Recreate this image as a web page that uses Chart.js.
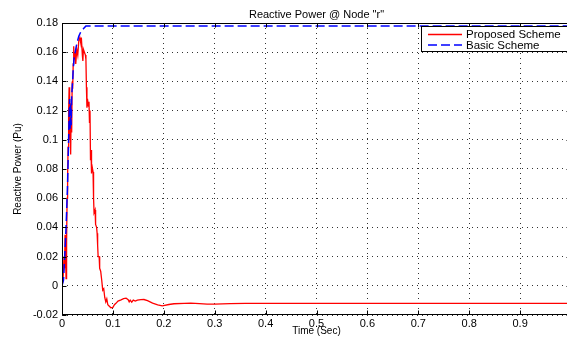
<!DOCTYPE html>
<html>
<head>
<meta charset="utf-8">
<script src="https://cdn.jsdelivr.net/npm/chart.js@4/dist/chart.umd.min.js"></script>
<style>
  html, body { margin: 0; padding: 0; background: #fff; overflow: hidden; }
  #wrap { width: 573px; height: 338px; }
</style>
</head>
<body>
<div id="wrap"><canvas id="c" width="573" height="338"></canvas></div>
<script>
// ---- data (time in seconds, reactive power in pu) ----
const titleText = 'Reactive Power @ Node "r"';
const xTitle = 'Time (Sec)';
const yTitle = 'Reactive Power (Pu)';
const seriesNames = ['Proposed Scheme', 'Basic Scheme'];

const proposedTime = [0, 0.002, 0.004, 0.005, 0.006, 0.007, 0.008, 0.009, 0.010, 0.011, 0.012, 0.013, 0.014, 0.015, 0.016, 0.017, 0.018, 0.019, 0.020, 0.021, 0.022, 0.023, 0.024, 0.026, 0.027, 0.029, 0.031, 0.033, 0.035, 0.037, 0.038, 0.040, 0.041, 0.042, 0.044, 0.046, 0.047, 0.048, 0.049, 0.050, 0.052, 0.053, 0.054, 0.055, 0.056, 0.057, 0.058, 0.059, 0.061, 0.062, 0.063, 0.065, 0.066, 0.068, 0.069, 0.070, 0.071, 0.073, 0.074, 0.076, 0.078, 0.080, 0.082, 0.084, 0.086, 0.088, 0.090, 0.093, 0.096, 0.100, 0.103, 0.106, 0.110, 0.116, 0.121, 0.126, 0.130, 0.132, 0.134, 0.137, 0.140, 0.144, 0.148, 0.155, 0.161, 0.168, 0.178, 0.188, 0.197, 0.21, 0.22, 0.24, 0.253, 0.27, 0.285, 0.30, 0.33, 0.36, 0.4, 0.5, 0.6, 0.7, 0.8, 0.9, 1.0];
const proposedQ = [0, 0.004, 0.02, 0.012, 0.035, 0.022, 0.005, 0.03, 0.06, 0.075, 0.095, 0.118, 0.136, 0.10, 0.125, 0.09, 0.12, 0.105, 0.14, 0.135, 0.152, 0.164, 0.155, 0.16, 0.152, 0.162, 0.158, 0.168, 0.17, 0.166, 0.17, 0.158, 0.154, 0.162, 0.16, 0.158, 0.155, 0.136, 0.122, 0.128, 0.123, 0.126, 0.112, 0.12, 0.086, 0.093, 0.077, 0.082, 0.078, 0.06, 0.05, 0.052, 0.042, 0.04, 0.036, 0.028, 0.02, 0.02, 0.012, 0.01, 0.004, -0.003, -0.002, -0.008, -0.011, -0.009, -0.013, -0.014, -0.015, -0.0148, -0.013, -0.012, -0.0105, -0.0096, -0.0088, -0.0085, -0.0095, -0.011, -0.0098, -0.0112, -0.0098, -0.0105, -0.0098, -0.0095, -0.0094, -0.0102, -0.0119, -0.013, -0.0137, -0.0128, -0.0123, -0.012, -0.0118, -0.0122, -0.0126, -0.0126, -0.0122, -0.012, -0.012, -0.012, -0.012, -0.012, -0.012, -0.012, -0.012];

const basicTime = [0, 0.003, 0.005, 0.0075, 0.009, 0.011, 0.012, 0.013, 0.014, 0.015, 0.016, 0.017, 0.018, 0.019, 0.021, 0.022, 0.024, 0.026, 0.028, 0.030, 0.033, 0.037, 0.042, 0.047, 0.05, 1.0];
const basicQ = [0, 0.004, 0.018, 0.036, 0.05, 0.07, 0.085, 0.10, 0.115, 0.128, 0.107, 0.125, 0.11, 0.13, 0.141, 0.148, 0.157, 0.16, 0.164, 0.167, 0.171, 0.174, 0.176, 0.178, 0.178, 0.178];

const xTicks = [0, 0.1, 0.2, 0.3, 0.4, 0.5, 0.6, 0.7, 0.8, 0.9, 1.0];
const yTicks = [-0.02, 0, 0.02, 0.04, 0.06, 0.08, 0.1, 0.12, 0.14, 0.16, 0.18];

const FONT = "'Liberation Sans', Arial, Helvetica, sans-serif";
Chart.defaults.font.family = FONT;
Chart.defaults.color = '#000';

const fmt = v => {
  const r = Math.round(v * 100) / 100;
  return String(r);
};

const framePlugin = {
  id: 'frame',
  afterDraw(chart) {
    const {ctx, chartArea: a, scales} = chart;
    ctx.save();
    ctx.strokeStyle = '#000';
    ctx.lineWidth = 1;
    ctx.setLineDash([]);
    const L = Math.round(a.left) + 0.5, R = Math.round(a.right) - 0.5;
    const T = Math.round(a.top) + 0.5, B = Math.round(a.bottom) - 0.5;
    ctx.strokeRect(L, T, R - L, B - T);
    // inward ticks
    ctx.beginPath();
    xTicks.forEach(v => {
      const x = Math.round(scales.x.getPixelForValue(v)) + 0.5;
      ctx.moveTo(x, B); ctx.lineTo(x, B - 4);
      ctx.moveTo(x, T); ctx.lineTo(x, T + 4);
    });
    yTicks.forEach(v => {
      const y = Math.round(scales.y.getPixelForValue(v)) + 0.5;
      ctx.moveTo(L, y); ctx.lineTo(L + 4, y);
      ctx.moveTo(R, y); ctx.lineTo(R - 4, y);
    });
    ctx.stroke();

    // legend box (top-right, inside the plot)
    const bx = 421.5, by = T + 3, bw = R - bx, bh = 25;
    ctx.fillStyle = '#fff';
    ctx.fillRect(bx, by, bw, bh);
    ctx.strokeRect(bx, by, bw, bh);
    const ds = chart.data.datasets;
    const rows = [by + 8, by + 18.5];
    ds.forEach((d, i) => {
      ctx.beginPath();
      ctx.strokeStyle = d.borderColor;
      ctx.lineWidth = d.borderWidth;
      ctx.setLineDash(d.borderDash || []);
      ctx.moveTo(428, rows[i]); ctx.lineTo(462, rows[i]);
      ctx.stroke();
      ctx.setLineDash([]);
      ctx.fillStyle = '#000';
      ctx.font = '11.5px ' + FONT;
      ctx.textBaseline = 'middle';
      ctx.textAlign = 'left';
      ctx.fillText(d.label, 466, rows[i] + 0.5);
    });
    ctx.restore();
  }
};

new Chart(document.getElementById('c'), {
  type: 'line',
  data: {
    datasets: [
      {
        label: seriesNames[0],
        data: proposedTime.map((t, i) => ({x: t, y: proposedQ[i]})),
        borderColor: '#ff0000',
        borderWidth: 1.3,
        pointRadius: 0,
        tension: 0,
        fill: false,
        order: 1
      },
      {
        label: seriesNames[1],
        data: basicTime.map((t, i) => ({x: t, y: basicQ[i]})),
        borderColor: '#0000ff',
        borderWidth: 1.5,
        borderDash: [9, 4],
        pointRadius: 0,
        tension: 0,
        fill: false,
        order: 0
      }
    ]
  },
  options: {
    responsive: false,
    animation: false,
    layout: { padding: 0 },
    plugins: {
      legend: { display: false },
      tooltip: { enabled: false },
      title: {
        display: true,
        text: titleText,
        fullSize: false,
        font: { size: 11, weight: 'normal' },
        color: '#000',
        padding: { top: 8, bottom: 1.8 }
      }
    },
    scales: {
      x: {
        type: 'linear',
        min: 0,
        max: 1,
        afterFit: s => { s.height = 23; },
        afterBuildTicks: s => { s.ticks = xTicks.map(v => ({value: v})); },
        ticks: {
          autoSkip: false,
          maxRotation: 0,
          padding: 2,
          font: { size: 11 },
          callback: v => (v >= 0.999 ? '' : fmt(v))
        },
        grid: { color: 'rgba(0,0,0,0.8)', lineWidth: 1, drawTicks: false },
        border: { display: false, dash: [1, 4] },
        title: { display: true, text: xTitle, font: { size: 10 }, padding: { top: 0, bottom: 1 } }
      },
      y: {
        type: 'linear',
        min: -0.02,
        max: 0.18,
        afterFit: s => { s.width = 62; },
        afterBuildTicks: s => { s.ticks = yTicks.map(v => ({value: v})); },
        ticks: {
          autoSkip: false,
          padding: 4,
          font: { size: 11 },
          callback: v => fmt(v)
        },
        grid: { color: 'rgba(0,0,0,0.8)', lineWidth: 1, drawTicks: false },
        border: { display: false, dash: [1, 4] },
        title: { display: true, text: yTitle, font: { size: 10 }, padding: { top: 12, bottom: 0 } }
      }
    }
  },
  plugins: [framePlugin]
});
</script>
</body>
</html>
